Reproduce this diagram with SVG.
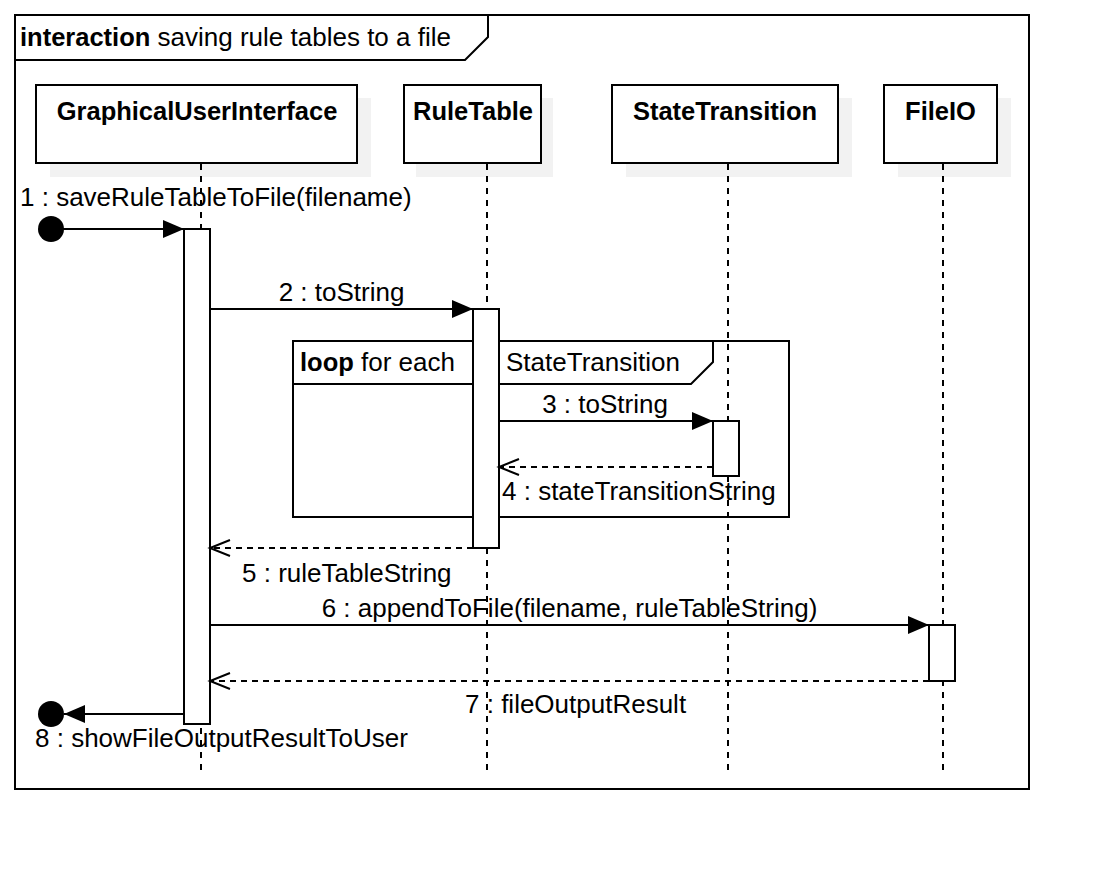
<svg xmlns="http://www.w3.org/2000/svg" width="1114" height="874" viewBox="0 0 1114 874">
  <defs>
    <marker id="filled" viewBox="0 0 21 18" refX="21" refY="9" markerWidth="21" markerHeight="18" markerUnits="userSpaceOnUse" orient="auto">
      <path d="M0,0 L21,9 L0,18 Z" fill="#000"/>
    </marker>
    <marker id="open" viewBox="-1 -1 23 20" refX="20" refY="9" markerWidth="23" markerHeight="20" markerUnits="userSpaceOnUse" orient="auto" overflow="visible">
      <path d="M0,1 L20,9 L0,17" fill="none" stroke="#000" stroke-width="2"/>
    </marker>
  </defs>
  <style>
    text { font-family: "Liberation Sans", Arial, sans-serif; font-size: 26px; fill: #000; }
    .b { font-weight: bold; font-size: 25.5px; }
    .frame { fill: none; stroke: #000; stroke-width: 2; }
    .shadow { fill: #f2f2f2; stroke: none; }
    .head { fill: #fff; stroke: #000; stroke-width: 2; }
    .life { stroke: #000; stroke-width: 2; stroke-dasharray: 6 6; fill: none; }
    .bar { fill: #fff; stroke: #000; stroke-width: 2; }
    .msg { stroke: #000; stroke-width: 2; fill: none; marker-end: url(#filled); }
    .ret { stroke: #000; stroke-width: 2; stroke-dasharray: 6 5; fill: none; marker-end: url(#open); }
  </style>
  <rect width="1114" height="874" fill="#fff"/>

  <g id="interaction-frame">
    <rect class="frame" x="15" y="15" width="1014" height="774"/>
    <polyline class="frame" points="15,60 465,60 488,37 488,15"/>
    <text x="20" y="46"><tspan class="b">interaction</tspan> saving rule tables to a file</text>
  </g>

  <g id="lifeline-gui">
    <rect class="shadow" x="50" y="98" width="321" height="79"/>
    <rect class="head" x="36" y="85" width="321" height="78"/>
    <text class="b" x="197" y="120" text-anchor="middle">GraphicalUserInterface</text>
    <line class="life" x1="201" y1="164" x2="201" y2="772"/>
  </g>
  <g id="lifeline-ruletable">
    <rect class="shadow" x="416" y="98" width="137" height="79"/>
    <rect class="head" x="404" y="85" width="137" height="78"/>
    <text class="b" x="473" y="120" text-anchor="middle">RuleTable</text>
    <line class="life" x1="487" y1="164" x2="487" y2="772"/>
  </g>
  <g id="lifeline-statetransition">
    <rect class="shadow" x="626" y="98" width="226" height="79"/>
    <rect class="head" x="612" y="85" width="226" height="78"/>
    <text class="b" x="725" y="120" text-anchor="middle">StateTransition</text>
    <line class="life" x1="728" y1="164" x2="728" y2="772"/>
  </g>
  <g id="lifeline-fileio">
    <rect class="shadow" x="898" y="98" width="113" height="79"/>
    <rect class="head" x="884" y="85" width="113" height="78"/>
    <text class="b" x="940.5" y="120" text-anchor="middle">FileIO</text>
    <line class="life" x1="943" y1="164" x2="943" y2="772"/>
  </g>

  <g id="loop-fragment">
    <rect class="frame" x="293" y="341" width="496" height="176"/>
    <polyline class="frame" points="293,384 691,384 713,362 713,341"/>
    <text x="300" y="371"><tspan class="b">loop</tspan> for each <tspan x="506">StateTransition</tspan></text>
  </g>

  <g id="activations">
    <rect class="bar" x="184" y="229" width="26" height="495"/>
    <rect class="bar" x="473" y="309" width="26" height="239"/>
    <rect class="bar" x="713" y="421" width="26" height="55"/>
    <rect class="bar" x="929" y="625" width="26" height="56"/>
  </g>

  <g id="connectors">
    <circle cx="51" cy="229" r="13" fill="#000"/>
    <line class="msg" x1="51" y1="229" x2="184" y2="229"/>
    <text x="20" y="206">1 : saveRuleTableToFile(filename)</text>

    <line class="msg" x1="210" y1="309" x2="473" y2="309"/>
    <text x="341.5" y="301" text-anchor="middle">2 : toString</text>

    <line class="msg" x1="499" y1="421" x2="713" y2="421"/>
    <text x="605" y="413" text-anchor="middle">3 : toString</text>

    <line class="ret" x1="713" y1="467" x2="499" y2="467"/>
    <text x="502" y="500">4 : stateTransitionString</text>

    <line class="ret" x1="473" y1="548" x2="210" y2="548"/>
    <text x="242" y="582">5 : ruleTableString</text>

    <line class="msg" x1="210" y1="625" x2="929" y2="625"/>
    <text x="569.5" y="617" text-anchor="middle">6 : appendToFile(filename, ruleTableString)</text>

    <line class="ret" x1="929" y1="681" x2="210" y2="681"/>
    <text x="465" y="713">7 : fileOutputResult</text>

    <circle cx="51" cy="714" r="13" fill="#000"/>
    <line class="msg" x1="184" y1="714" x2="64" y2="714"/>
    <text x="35" y="747">8 : showFileOutputResultToUser</text>
  </g>
</svg>
